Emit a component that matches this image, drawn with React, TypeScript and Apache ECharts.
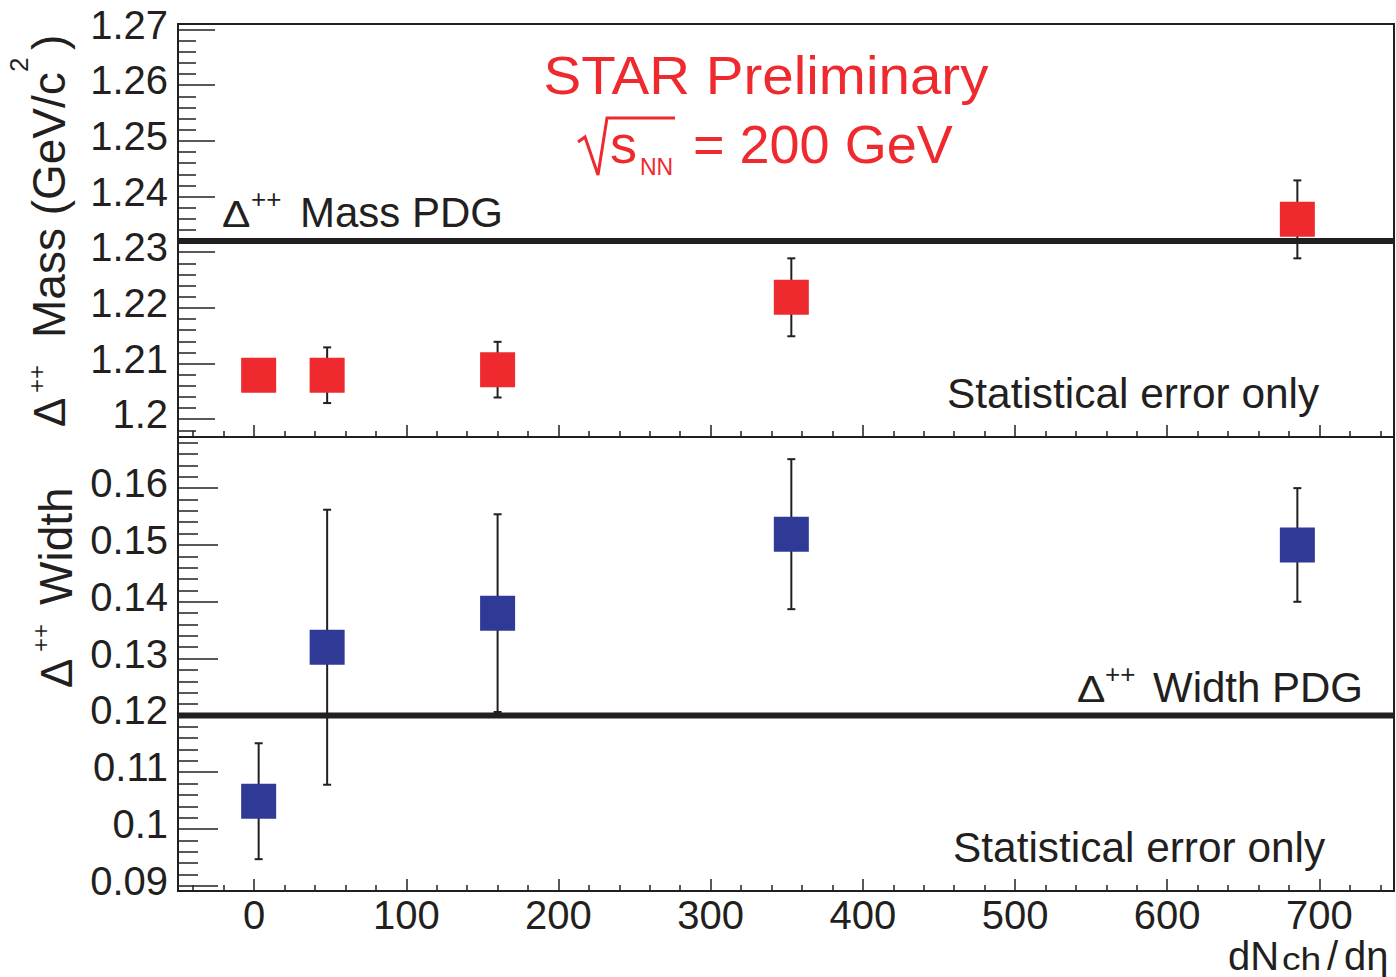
import React, { useEffect, useRef } from "react";
import * as echarts from "echarts";

// ---- data ----
const MULTIPLICITY = [3, 48, 160, 353, 685.5];
const MASS = [1.2079, 1.2079, 1.2089, 1.2219, 1.2359];
const MASS_ERR = [0.002, 0.005, 0.005, 0.007, 0.007];
const WIDTH = [0.1049, 0.132, 0.138, 0.1519, 0.15];
const WIDTH_ERR = [0.0102, 0.0242, 0.0174, 0.0132, 0.01];
const MASS_PDG = 1.232;
const WIDTH_PDG = 0.12;

// ---- axes ----
const X_MIN = -50;
const X_MAX = 749;
const X_TICKS = [0, 100, 200, 300, 400, 500, 600, 700];
const MASS_MIN = 1.1968;
const MASS_MAX = 1.271;
const MASS_TICKS = [1.2, 1.21, 1.22, 1.23, 1.24, 1.25, 1.26, 1.27];
const WIDTH_MIN = 0.0891;
const WIDTH_MAX = 0.169;
const WIDTH_TICKS = [0.09, 0.1, 0.11, 0.12, 0.13, 0.14, 0.15, 0.16];

function minorTicks(min: number, max: number, step: number, majors: number[]) {
  const out: number[] = [];
  const start = Math.ceil(min / step);
  const end = Math.floor(max / step);
  for (let i = start; i <= end; i++) {
    const v = parseFloat((i * step).toFixed(6));
    if (!majors.some((m) => Math.abs(m - v) < step / 10)) out.push(v);
  }
  return out;
}

const X_MINOR = minorTicks(X_MIN, X_MAX, 20, X_TICKS);
const MASS_MINOR = minorTicks(MASS_MIN, MASS_MAX, 0.002, MASS_TICKS);
const WIDTH_MINOR = minorTicks(WIDTH_MIN, WIDTH_MAX, 0.002, WIDTH_TICKS);

const INK = "#231F20";
const RED = "#EE2A2F";
const BLUE = "#2F3A97";
const FONT = '"Liberation Sans", Arial, Helvetica, sans-serif';

const fmt = (v: number) => String(parseFloat(Number(v).toFixed(4)));

function yAxis(grid: number, min: number, max: number, values: number[], len: number, labels: boolean) {
  return {
    type: "value",
    gridIndex: grid,
    min,
    max,
    position: "left",
    offset: 0,
    axisLine: { show: false, onZero: false },
    splitLine: { show: false },
    axisTick: {
      show: true,
      inside: true,
      length: len,
      customValues: values,
      lineStyle: { color: INK, width: 1.5 },
    },
    axisLabel: {
      show: labels,
      customValues: values,
      formatter: fmt,
      fontSize: 40,
      fontFamily: FONT,
      color: INK,
      margin: 10,
      verticalAlign: "bottom",
      lineHeight: 10,
    },
  };
}

function xAxis(grid: number, values: number[], len: number, labels: boolean) {
  return {
    type: "value",
    gridIndex: grid,
    min: X_MIN,
    max: X_MAX,
    position: "bottom",
    offset: 0,
    axisLine: { show: false, onZero: false },
    splitLine: { show: false },
    axisTick: {
      show: true,
      inside: true,
      length: len,
      customValues: values,
      lineStyle: { color: INK, width: 1.5 },
    },
    axisLabel: {
      show: labels,
      customValues: values,
      formatter: fmt,
      fontSize: 40,
      fontFamily: FONT,
      color: INK,
      margin: 4,
    },
  };
}

const errRender = (params: any, api: any) => {
  const x = api.value(0);
  const lo = api.coord([x, api.value(1)]);
  const hi = api.coord([x, api.value(2)]);
  const cap = 4;
  const style = { stroke: INK, lineWidth: 2 };
  return {
    type: "group",
    children: [
      { type: "line", shape: { x1: lo[0], y1: lo[1], x2: hi[0], y2: hi[1] }, style },
      { type: "line", shape: { x1: lo[0] - cap, y1: lo[1], x2: lo[0] + cap, y2: lo[1] }, style },
      { type: "line", shape: { x1: hi[0] - cap, y1: hi[1], x2: hi[0] + cap, y2: hi[1] }, style },
    ],
  };
};

function txt(x: number, y: number, text: string, size: number, opts: any = {}) {
  return {
    type: "text",
    x,
    y,
    rotation: opts.rotation || 0,
    scaleX: opts.scaleX || 1,
    silent: true,
    z: 100,
    style: {
      text,
      fill: opts.color || INK,
      font: `${size}px ${FONT}`,
      align: opts.align || "left",
      verticalAlign: "middle",
      textAlign: opts.align || "left",
      textVerticalAlign: "middle",
    },
  };
}

export default function App() {
  const ref = useRef<HTMLDivElement>(null);
  useEffect(() => {
    if (!ref.current) return;
    const chart = echarts.init(ref.current, null, { renderer: "svg" });
    const R = Math.PI / 2;
    const option: any = {
      animation: false,
      backgroundColor: "#ffffff",
      grid: [
        { left: 178, top: 24, width: 1216, height: 413, show: true, borderColor: INK, borderWidth: 2, backgroundColor: "transparent" },
        { left: 178, top: 437, width: 1216, height: 454, show: true, borderColor: INK, borderWidth: 2, backgroundColor: "transparent" },
      ],
      xAxis: [
        xAxis(0, X_TICKS, 12, false),
        xAxis(0, X_MINOR, 6, false),
        xAxis(1, X_TICKS, 12, true),
        xAxis(1, X_MINOR, 6, false),
      ],
      yAxis: [
        yAxis(0, MASS_MIN, MASS_MAX, MASS_TICKS, 37, true),
        yAxis(0, MASS_MIN, MASS_MAX, MASS_MINOR, 18, false),
        yAxis(1, WIDTH_MIN, WIDTH_MAX, WIDTH_TICKS, 40, true),
        yAxis(1, WIDTH_MIN, WIDTH_MAX, WIDTH_MINOR, 20, false),
      ],
      series: [
        {
          type: "line",
          xAxisIndex: 0,
          yAxisIndex: 0,
          data: [[X_MIN, MASS_PDG], [X_MAX, MASS_PDG]],
          symbol: "none",
          lineStyle: { color: INK, width: 6 },
          z: 2,
        },
        {
          type: "line",
          xAxisIndex: 2,
          yAxisIndex: 2,
          data: [[X_MIN, WIDTH_PDG], [X_MAX, WIDTH_PDG]],
          symbol: "none",
          lineStyle: { color: INK, width: 6 },
          z: 2,
        },
        {
          type: "custom",
          xAxisIndex: 0,
          yAxisIndex: 0,
          renderItem: errRender,
          encode: { x: 0, y: [1, 2] },
          data: MULTIPLICITY.map((x, i) => [x, MASS[i] - MASS_ERR[i], MASS[i] + MASS_ERR[i]]),
          z: 3,
        },
        {
          type: "custom",
          xAxisIndex: 2,
          yAxisIndex: 2,
          renderItem: errRender,
          encode: { x: 0, y: [1, 2] },
          data: MULTIPLICITY.map((x, i) => [x, WIDTH[i] - WIDTH_ERR[i], WIDTH[i] + WIDTH_ERR[i]]),
          z: 3,
        },
        {
          type: "scatter",
          xAxisIndex: 0,
          yAxisIndex: 0,
          symbol: "rect",
          symbolSize: 35,
          itemStyle: { color: RED, opacity: 1 },
          data: MULTIPLICITY.map((x, i) => [x, MASS[i]]),
          z: 4,
        },
        {
          type: "scatter",
          xAxisIndex: 2,
          yAxisIndex: 2,
          symbol: "rect",
          symbolSize: 35,
          itemStyle: { color: BLUE, opacity: 1 },
          data: MULTIPLICITY.map((x, i) => [x, WIDTH[i]]),
          z: 4,
        },
      ],
      graphic: {
        elements: [
          // STAR Preliminary
          txt(766, 75, "STAR Preliminary", 54, { color: RED, align: "center", scaleX: 1.047 }),
          {
            type: "polyline",
            silent: true,
            shape: { points: [[578, 142], [585, 137], [598, 175], [607, 118], [675, 118]] },
            style: { stroke: RED, lineWidth: 3, fill: null, lineJoin: "miter" },
            z: 100,
          },
          txt(610, 144.4, "s", 54, { color: RED }),
          txt(640, 167, "NN", 23, { color: RED }),
          txt(693, 144.4, "= 200 GeV", 54, { color: RED }),
          // Mass PDG label
          txt(222, 214, "\u0394", 37, { scaleX: 1.15 }),
          txt(251, 199, "++", 26),
          txt(300, 212.3, "Mass PDG", 42),
          // Width PDG label
          txt(1077, 688.7, "\u0394", 37, { scaleX: 1.15 }),
          txt(1105, 673.5, "++", 26),
          txt(1153, 687, "Width PDG", 42),
          // statistical error notes
          txt(947, 393.3, "Statistical error only", 42.4),
          txt(953, 847.3, "Statistical error only", 42.4),
          // top y title (rotated)
          txt(49, 427, "\u0394", 44, { rotation: R }),
          txt(36, 393, "++", 24, { rotation: R }),
          txt(49, 338, "Mass (GeV/c", 46, { rotation: R }),
          txt(19, 72, "2", 26, { rotation: R }),
          txt(49, 50, ")", 46, { rotation: R }),
          // bottom y title (rotated)
          txt(56, 688, "\u0394", 44, { rotation: R }),
          txt(40, 652, "++", 24, { rotation: R }),
          txt(56, 605, "Width", 46, { rotation: R }),
          // x title
          txt(1228, 956, "dN", 40),
          txt(1282, 959.5, "ch", 31, { scaleX: 1.2 }),
          txt(1327, 956, "/", 40),
          txt(1344, 956, "d\u03B7", 40),
        ],
      },
    };
    chart.setOption(option);
    return () => chart.dispose();
  }, []);
  return (
    <div
      ref={ref}
      style={{ position: "absolute", left: 0, top: 0, width: 1396, height: 977, background: "#fff" }}
    />
  );
}
